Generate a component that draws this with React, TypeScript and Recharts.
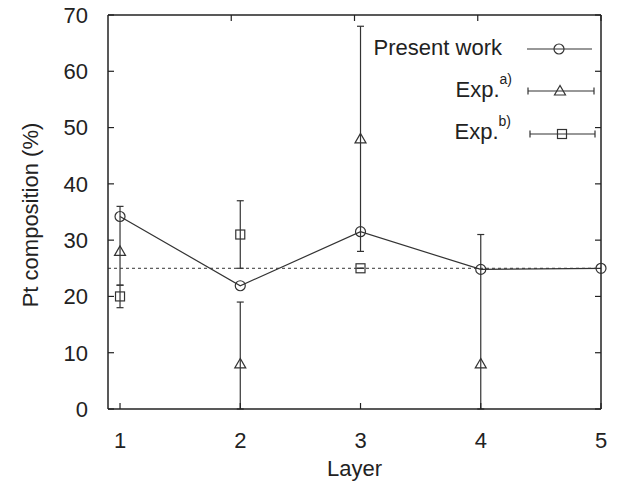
import React from 'react';
import {
  ComposedChart, Line, Scatter, XAxis, YAxis, ErrorBar,
  ReferenceLine, Legend
} from 'recharts';

// layer positions and values
const layers = [1, 2, 3, 4, 5];
const presentWork = [34.2, 21.9, 31.5, 24.8, 25.0];

const expALayers = [1, 2, 3, 4];
const expA = [28, 8, 48, 8];
const expALow = [22, 0, 28, 0];
const expAHigh = [36, 19, 68, 31];

const expBLayers = [1, 2, 3];
const expB = [20, 31, 25];
const expBLow = [18, 25, 25];
const expBHigh = [22, 37, 25];

const referenceLevel = 25;
const xTicks = [1, 2, 3, 4, 5];
const yTicks = [0, 10, 20, 30, 40, 50, 60, 70];

const FONT = '"Liberation Sans", Arial, Helvetica, sans-serif';
const INK = '#222';
const LINE = '#333';

const presentData = layers.map((layer, i) => ({ layer, present: presentWork[i] }));
const expAData = expALayers.map((layer, i) => ({
  layer, value: expA[i], err: [expA[i] - expALow[i], expAHigh[i] - expA[i]],
}));
const expBData = expBLayers.map((layer, i) => ({
  layer, value: expB[i], err: [expB[i] - expBLow[i], expBHigh[i] - expB[i]],
}));

const Triangle = ({ cx, cy }: any) => (
  <polygon
    points={`${cx},${cy - 5.5} ${cx - 5.5},${cy + 4} ${cx + 5.5},${cy + 4}`}
    fill="none" stroke={LINE} strokeWidth={1.2}
  />
);

const Square = ({ cx, cy }: any) => (
  <rect x={cx - 4.5} y={cy - 4.5} width={9} height={9} fill="none" stroke={LINE} strokeWidth={1.2} />
);

const LeftTick = ({ x, y, payload }: any) => (
  <g>
    <line x1={x} x2={x + 6} y1={y} y2={y} stroke={INK} strokeWidth={1.2} />
    <text x={x - 20} y={y} dy="0.36em" textAnchor="end" fontFamily={FONT} fontSize={22} fill={INK}>
      {payload.value}
    </text>
  </g>
);

const RightTick = ({ x, y }: any) => (
  <line x1={x - 6} x2={x} y1={y} y2={y} stroke={INK} strokeWidth={1.2} />
);

const BottomTick = ({ x, y, payload }: any) => (
  <g>
    <line x1={x} x2={x} y1={y} y2={y - 6} stroke={INK} strokeWidth={1.2} />
    <text x={x} y={y + 39} textAnchor="middle" fontFamily={FONT} fontSize={22} fill={INK}>
      {payload.value}
    </text>
  </g>
);

const TopTick = ({ x, y }: any) => (
  <line x1={x} x2={x} y1={y} y2={y + 6} stroke={INK} strokeWidth={1.2} />
);

const XTitle = ({ viewBox }: any) => (
  <text
    x={viewBox.x + viewBox.width / 2} y={476}
    textAnchor="middle" fontFamily={FONT} fontSize={22} fill={INK}
  >
    Layer
  </text>
);

const YTitle = ({ viewBox }: any) => {
  const cx = 38;
  const cy = viewBox.y + viewBox.height / 2 + 3;
  return (
    <text
      x={cx} y={cy} transform={`rotate(-90 ${cx} ${cy})`}
      textAnchor="middle" fontFamily={FONT} fontSize={22} fill={INK}
    >
      Pt composition (%)
    </text>
  );
};

// legend drawn in chart coordinates, like the gnuplot key
const KeyBox = () => (
  <svg width={619} height={483} style={{ display: 'block' }}>
    <g fontFamily={FONT} fontSize={22} fill={INK}>
      <text x={502} y={55} textAnchor="end">Present work</text>
      <text x={512} y={97} textAnchor="end">
        Exp.<tspan dy={-13} fontSize={14}>a)</tspan>
      </text>
      <text x={511} y={139} textAnchor="end">
        Exp.<tspan dy={-13} fontSize={14}>b)</tspan>
      </text>
    </g>
    <g stroke={LINE} strokeWidth={1.2} fill="none">
      <line x1={527} x2={592} y1={49} y2={49} />
      <circle cx={559} cy={49} r={5} />

      <line x1={528} x2={594} y1={91} y2={91} />
      <line x1={528} x2={528} y1={87.5} y2={94.5} />
      <line x1={594} x2={594} y1={87.5} y2={94.5} />
      <polygon points="560,85.5 554.5,95 565.5,95" />

      <line x1={530} x2={595} y1={134} y2={134} />
      <line x1={530} x2={530} y1={130.5} y2={137.5} />
      <line x1={595} x2={595} y1={130.5} y2={137.5} />
      <rect x={557.5} y={129.5} width={9} height={9} />
    </g>
  </svg>
);

export default function App() {
  return (
    <div style={{ position: 'absolute', left: 0, top: 0, width: 619, height: 483, background: '#fff' }}>
      <ComposedChart
        width={619}
        height={483}
        data={presentData}
        margin={{ top: 14, right: 17, bottom: 73, left: 107 }}
      >
        <XAxis
          dataKey="layer" type="number" domain={[0.9, 5]} ticks={xTicks}
          height={1} tickSize={0} tickMargin={0} tickLine={false}
          axisLine={{ stroke: INK, strokeWidth: 1.5 }}
          tick={<BottomTick />} interval={0}
          label={<XTitle />}
        />
        <XAxis
          xAxisId="top" orientation="top" type="number" domain={[0.9, 5]} ticks={xTicks}
          allowDataOverflow height={1} tickSize={0} tickMargin={0} tickLine={false}
          axisLine={{ stroke: INK, strokeWidth: 1.5 }}
          tick={<TopTick />} interval={0}
        />
        <YAxis
          type="number" domain={[0, 70]} ticks={yTicks}
          width={1} tickSize={0} tickMargin={0} tickLine={false}
          axisLine={{ stroke: INK, strokeWidth: 1.5 }}
          tick={<LeftTick />} interval={0}
          label={<YTitle />}
        />
        <YAxis
          yAxisId="right" orientation="right" type="number" domain={[0, 70]} ticks={yTicks}
          allowDataOverflow width={1} tickSize={0} tickMargin={0} tickLine={false}
          axisLine={{ stroke: INK, strokeWidth: 1.5 }}
          tick={<RightTick />} interval={0}
        />
        <ReferenceLine y={referenceLevel} stroke={LINE} strokeWidth={1} strokeDasharray="3 3" />
        <Line
          dataKey="present" name="Present work" type="linear"
          stroke={LINE} strokeWidth={1.2}
          dot={{ r: 5, fill: 'none', stroke: LINE, strokeWidth: 1.2 }}
          activeDot={false} isAnimationActive={false}
        />
        <Scatter data={expAData} dataKey="value" name="Exp. a)" shape={<Triangle />} isAnimationActive={false}>
          <ErrorBar dataKey="err" direction="y" width={3.5} stroke={LINE} strokeWidth={1.2} isAnimationActive={false} />
        </Scatter>
        <Scatter data={expBData} dataKey="value" name="Exp. b)" shape={<Square />} isAnimationActive={false}>
          <ErrorBar dataKey="err" direction="y" width={3.5} stroke={LINE} strokeWidth={1.2} isAnimationActive={false} />
        </Scatter>
        <Legend
          layout="vertical" align="center" verticalAlign="middle"
          wrapperStyle={{ left: 0, top: 0, width: 619, height: 483, pointerEvents: 'none' }}
          content={<KeyBox />}
        />
      </ComposedChart>
    </div>
  );
}
